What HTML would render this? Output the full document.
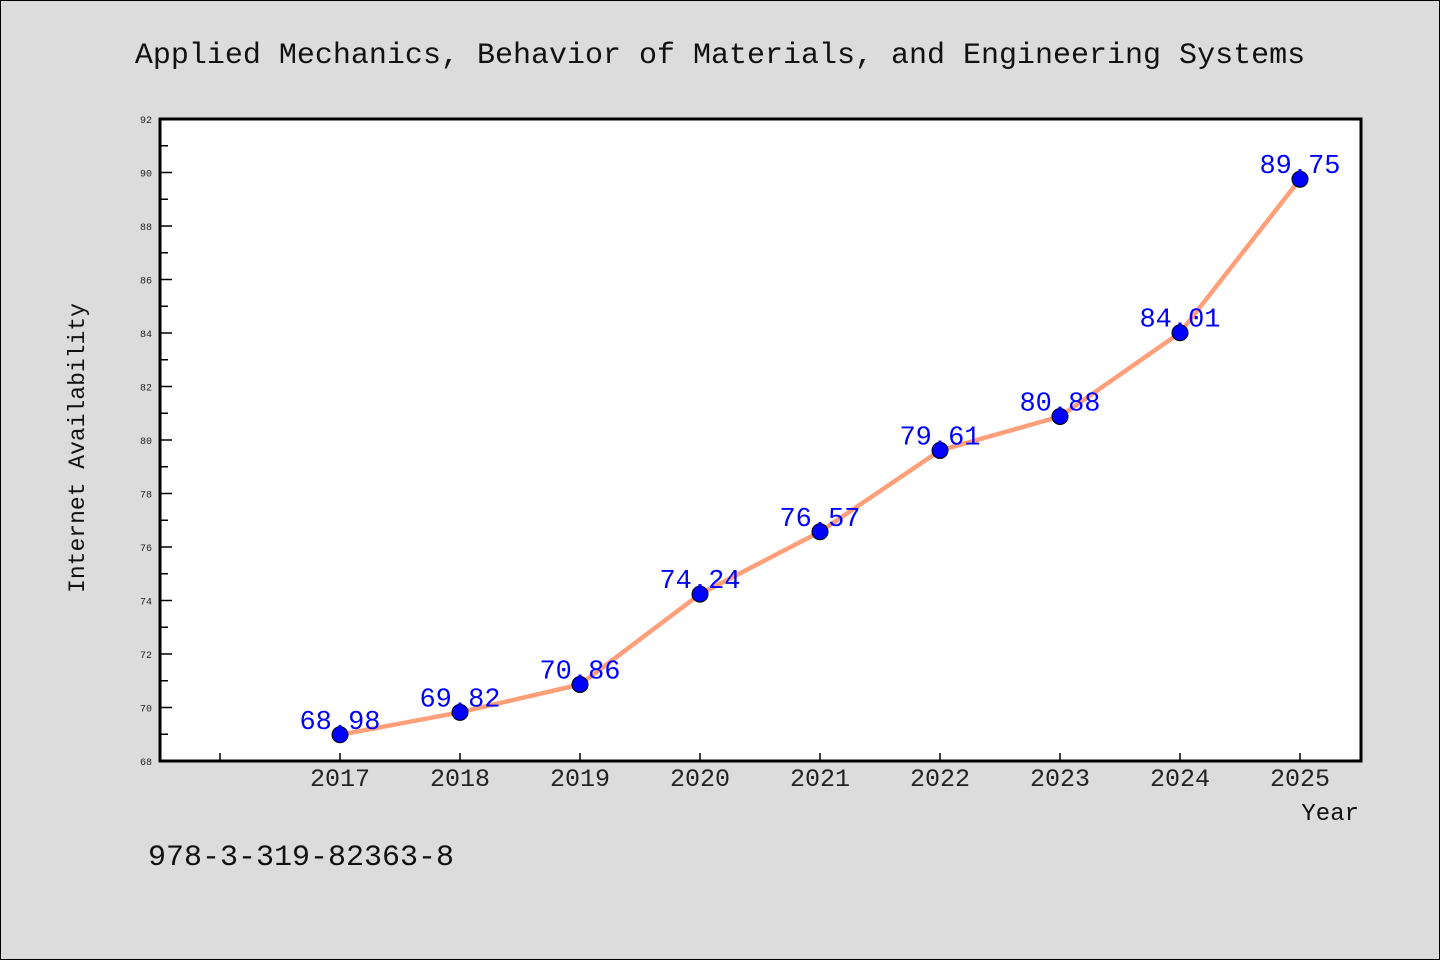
<!DOCTYPE html>
<html><head><meta charset="utf-8"><style>
body{margin:0;background:#dcdcdc;}
svg{display:block;font-family:"Liberation Mono",monospace;}
</style></head><body>
<svg width="1440" height="960">
<rect x="0.5" y="0.5" width="1439" height="959" fill="#dcdcdc" stroke="#000"/>
<text x="720" y="63" text-anchor="middle" font-size="30" fill="#111">Applied Mechanics, Behavior of Materials, and Engineering Systems</text>
<rect x="160" y="119" width="1201" height="642" fill="#fff" stroke="#000" stroke-width="3"/>
<g id="axes"></g>
<g id="marks"></g>
<text x="84" y="448" text-anchor="middle" font-size="23" fill="#111" transform="rotate(-90 84 448)">Internet Availability</text>
<text x="1359" y="820" text-anchor="end" font-size="24" fill="#111">Year</text>
<text x="148" y="865" font-size="30" fill="#111">978-3-319-82363-8</text>
</svg>
<script>
const years=[2017,2018,2019,2020,2021,2022,2023,2024,2025];
const values=[68.98,69.82,70.86,74.24,76.57,79.61,80.88,84.01,89.75];
const labels=["68.98","69.82","70.86","74.24","76.57","79.61","80.88","84.01","89.75"];
const yTicks=[68,70,72,74,76,78,80,82,84,86,88,90,92];
const NS="http://www.w3.org/2000/svg";
const X=v=>220+(v-2016)*120;
const Y=v=>761-(v-68)*(642/24);
function mk(t,a,p){const e=document.createElementNS(NS,t);for(const k in a)e.setAttribute(k,a[k]);p.appendChild(e);return e;}
const ax=document.getElementById('axes'),mg=document.getElementById('marks');
for(let v=68;v<=92;v++){
 const l=mk('line',{x1:160,x2:v%2?168:172,y1:Y(v),y2:Y(v),stroke:'#000','stroke-width':1.5},ax);
 
 
}
yTicks.forEach(v=>{
 const t=mk('text',{x:152,y:Y(v)+4,'text-anchor':'end','font-size':10,fill:'#222'},ax);t.textContent=v;
 
 
});
[2016].concat(years).forEach(v=>{
 const l=mk('line',{x1:X(v),x2:X(v),y1:761,y2:753,stroke:'#000','stroke-width':1.5},ax);
 
 
});
years.forEach(v=>{
 const t=mk('text',{x:X(v),y:786,'text-anchor':'middle','font-size':25,fill:'#222'},ax);t.textContent=v;
 
 
});
const pl=mk('polyline',{points:years.map((y,i)=>X(y)+','+Y(values[i])).join(' '),fill:'none',stroke:'#ffa07a','stroke-width':4.5},mg);


years.forEach((y,i)=>{
 const c=mk('circle',{cx:X(y),cy:Y(values[i]),r:8,fill:'#0000ff',stroke:'#000','stroke-width':1},mg);
 
 
 const t=mk('text',{x:X(y),y:Y(values[i])-6,'text-anchor':'middle','font-size':27,fill:'#0000ff'},mg);t.textContent=labels[i];
 
 
});
</script>
</body></html>
